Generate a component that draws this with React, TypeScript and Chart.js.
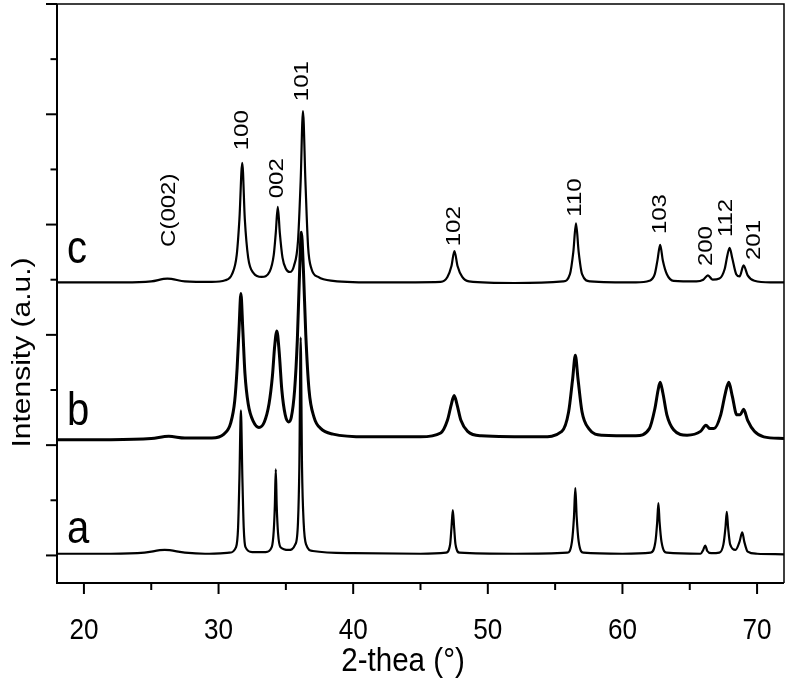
import React, { useEffect, useRef } from "react";
import { Chart, registerables } from "chart.js";

Chart.register(...registerables);

// 2-theta (deg), intensity (a.u., offset)
const curveA: [number, number][] = [
  [18, 0.03], [22, 0.03], [24.5, 0.05], [26, 0.1], [27.5, 0.05], [29, 0.03], [30.8, 0.05],
  [31.3, 0.15], [31.45, 0.5], [31.55, 1.4], [31.66, 2.63], [31.77, 1.4], [31.87, 0.5], [32.0, 0.15],
  [32.5, 0.06], [33.5, 0.06], [33.95, 0.15], [34.1, 0.45], [34.18, 0.9], [34.25, 1.56], [34.32, 0.9],
  [34.42, 0.4], [34.6, 0.15], [35.2, 0.1], [35.7, 0.2], [35.9, 0.6], [36.0, 1.6], [36.1, 3.95],
  [36.2, 1.6], [36.32, 0.6], [36.5, 0.2], [37, 0.08], [40, 0.04], [45, 0.03], [46.9, 0.05],
  [47.2, 0.2], [47.3, 0.5], [47.4, 0.82], [47.5, 0.5], [47.6, 0.2], [47.9, 0.05], [52, 0.03],
  [55.9, 0.05], [56.25, 0.25], [56.4, 0.7], [56.5, 1.22], [56.6, 0.7], [56.75, 0.25], [57.1, 0.05],
  [60, 0.03], [62.1, 0.05], [62.45, 0.25], [62.58, 0.6], [62.67, 0.95], [62.76, 0.6], [62.9, 0.25],
  [63.3, 0.05], [65.8, 0.03], [66.0, 0.1], [66.15, 0.18], [66.3, 0.08], [66.6, 0.04], [67.2, 0.05],
  [67.5, 0.2], [67.65, 0.5], [67.75, 0.79], [67.85, 0.5], [68.0, 0.2], [68.4, 0.1], [68.7, 0.25],
  [68.9, 0.42], [69.05, 0.25], [69.3, 0.07], [70, 0.03], [72, 0.02],
];

const curveB: [number, number][] = [
  [18, 2.1], [22, 2.1], [25, 2.12], [26.3, 2.16], [27.5, 2.13], [29.5, 2.13], [30.4, 2.2],
  [30.9, 2.4], [31.2, 2.8], [31.38, 3.4], [31.52, 4.1], [31.66, 4.75], [31.8, 4.1], [31.96, 3.3],
  [32.2, 2.75], [32.6, 2.42], [33.0, 2.32], [33.4, 2.42], [33.75, 2.75], [34.0, 3.25], [34.17, 3.8],
  [34.33, 4.07], [34.5, 3.7], [34.7, 3.0], [34.95, 2.55], [35.2, 2.42], [35.4, 2.5], [35.65, 3.0],
  [35.85, 3.9], [36.0, 5.0], [36.15, 5.86], [36.3, 5.2], [36.48, 4.0], [36.72, 3.0], [37.1, 2.5],
  [37.6, 2.3], [38.5, 2.2], [41, 2.15], [45, 2.15], [46.5, 2.22], [47.0, 2.45], [47.3, 2.75],
  [47.5, 2.9], [47.7, 2.75], [48.0, 2.45], [48.5, 2.25], [49.5, 2.17], [54, 2.15], [55.5, 2.25],
  [56.0, 2.6], [56.3, 3.2], [56.5, 3.63], [56.7, 3.2], [57.0, 2.6], [57.5, 2.3], [58.5, 2.18],
  [61, 2.17], [62.0, 2.3], [62.4, 2.65], [62.65, 3.0], [62.8, 3.14], [63.0, 2.95], [63.3, 2.55],
  [63.8, 2.28], [64.8, 2.18], [65.8, 2.25], [66.2, 2.36], [66.5, 2.3], [66.8, 2.3], [67.3, 2.55],
  [67.65, 2.95], [67.9, 3.14], [68.15, 2.9], [68.5, 2.55], [68.75, 2.55], [69.0, 2.65], [69.3, 2.45],
  [69.8, 2.25], [70.5, 2.15], [72, 2.12],
];

const curveC: [number, number][] = [
  [18, 4.95], [23, 4.95], [25, 4.97], [26.2, 5.02], [27.5, 4.97], [29.5, 4.96], [30.5, 4.99],
  [31.0, 5.1], [31.35, 5.45], [31.55, 6.1], [31.76, 7.12], [31.95, 6.1], [32.2, 5.4], [32.6, 5.12],
  [33.2, 5.05], [33.8, 5.15], [34.1, 5.45], [34.25, 5.85], [34.4, 6.32], [34.55, 5.85], [34.75, 5.4],
  [35.0, 5.2], [35.3, 5.14], [35.6, 5.25], [35.9, 5.7], [36.1, 6.8], [36.27, 8.06], [36.45, 6.8],
  [36.65, 5.6], [36.9, 5.2], [37.4, 5.05], [38.5, 4.98], [42, 4.95], [46.5, 4.96], [47.0, 5.05],
  [47.3, 5.25], [47.52, 5.52], [47.75, 5.25], [48.1, 5.05], [48.6, 4.97], [52, 4.94], [55.6, 4.97],
  [56.1, 5.1], [56.35, 5.5], [56.55, 6.02], [56.75, 5.5], [57.0, 5.1], [57.6, 4.97], [61, 4.95],
  [62.0, 4.98], [62.4, 5.1], [62.6, 5.35], [62.8, 5.63], [63.0, 5.35], [63.3, 5.1], [63.8, 4.98],
  [65.5, 4.97], [66.0, 5.0], [66.35, 5.08], [66.7, 5.0], [67.2, 5.02], [67.6, 5.2], [67.8, 5.45],
  [67.96, 5.58], [68.15, 5.4], [68.45, 5.1], [68.7, 5.06], [69.0, 5.26], [69.3, 5.08], [69.8, 4.98],
  [71, 4.95], [72, 4.95],
];

const peakLabels = ["C(002)", "100", "002", "101", "102", "110", "103", "200", "112", "201"];
const peakLabelX = [26.35, 31.74, 34.38, 36.2, 47.48, 56.47, 62.77, 66.24, 67.68, 69.8];
const peakLabelY = [6.26, 7.71, 6.84, 8.6, 5.97, 6.49, 6.19, 5.61, 6.12, 5.72];

const curveNames = ["a", "b", "c"];
const curveNameX = [18.75, 18.75, 18.75];
const curveNameY = [0.22, 2.36, 5.3];

const xTickValues = [20, 25, 30, 35, 40, 45, 50, 55, 60, 65, 70];
const xTickLabelValues = [20, 30, 40, 50, 60, 70];
const yTickValues = [0, 1, 2, 3, 4, 5, 6, 7, 8, 9, 10];

const xTitle = "2-thea (°)";
const yTitle = "Intensity (a.u.)";

const FONT = "'Liberation Sans', Arial, sans-serif";
const SQUEEZE = 0.87;

const toXY = (arr: [number, number][]) => arr.map(([x, y]) => ({ x, y }));

function drawText(ctx: any, text: string, x: number, y: number, size: number, rotate: boolean) {
  ctx.save();
  ctx.translate(x, y);
  ctx.scale(SQUEEZE, 1);
  if (rotate) ctx.rotate(-Math.PI / 2);
  ctx.font = `${size}px ${FONT}`;
  ctx.fillText(text, 0, 0);
  ctx.restore();
}

const framePlugin = {
  id: "frameTicksLabels",
  afterDraw(chart: any) {
    const { ctx, chartArea } = chart;
    const { left, right, top, bottom } = chartArea;
    const xs = chart.scales.x;
    const ys = chart.scales.y;
    ctx.save();
    ctx.strokeStyle = "#000";
    ctx.lineCap = "butt";
    // frame
    ctx.lineWidth = 1.5;
    ctx.beginPath();
    ctx.moveTo(left, top);
    ctx.lineTo(right, top);
    ctx.lineTo(right, bottom);
    ctx.stroke();
    ctx.lineWidth = 2;
    ctx.beginPath();
    ctx.moveTo(left, top);
    ctx.lineTo(left, bottom);
    ctx.lineTo(right, bottom);
    ctx.stroke();
    // ticks
    ctx.lineWidth = 2;
    xTickValues.forEach((v) => {
      const px = xs.getPixelForValue(v);
      const len = v % 10 === 0 ? 11 : 7;
      ctx.beginPath();
      ctx.moveTo(px, bottom);
      ctx.lineTo(px, bottom + len);
      ctx.stroke();
    });
    yTickValues.forEach((v) => {
      const py = ys.getPixelForValue(v);
      const len = v % 2 === 0 ? 11 : 6.5;
      ctx.beginPath();
      ctx.moveTo(left - len, py);
      ctx.lineTo(left, py);
      ctx.stroke();
    });
    ctx.fillStyle = "#000";
    ctx.textAlign = "center";
    ctx.textBaseline = "middle";
    // x tick labels
    xTickLabelValues.forEach((v) => {
      drawText(ctx, String(v), xs.getPixelForValue(v), bottom + 48, 30, false);
    });
    // axis titles
    drawText(ctx, xTitle, xs.getPixelForValue(43.7), bottom + 79, 34, false);
    drawText(ctx, yTitle, 23, ys.getPixelForValue(3.68), 30, true);
    // peak labels
    peakLabels.forEach((t, i) => {
      drawText(ctx, t, xs.getPixelForValue(peakLabelX[i]), ys.getPixelForValue(peakLabelY[i]), 24, true);
    });
    // curve names
    ctx.textAlign = "left";
    ctx.textBaseline = "alphabetic";
    curveNames.forEach((t, i) => {
      drawText(ctx, t, xs.getPixelForValue(curveNameX[i]), ys.getPixelForValue(curveNameY[i]), 46, false);
    });
    ctx.restore();
  },
};

export default function App() {
  const ref = useRef<HTMLCanvasElement | null>(null);
  useEffect(() => {
    if (!ref.current) return;
    const lineDs = (data: [number, number][], w: number) => ({
      data: toXY(data),
      borderColor: "#000",
      borderWidth: w,
      pointRadius: 0,
      fill: false,
      cubicInterpolationMode: "monotone" as const,
    });
    const chart = new Chart(ref.current, {
      type: "line",
      data: {
        datasets: [lineDs(curveA, 2.2), lineDs(curveB, 3), lineDs(curveC, 2.2)],
      },
      options: {
        animation: false,
        responsive: true,
        maintainAspectRatio: false,
        parsing: false,
        layout: { padding: { top: 4, right: 3, left: 0, bottom: 0 } },
        plugins: { legend: { display: false }, tooltip: { enabled: false } },
        scales: {
          x: {
            type: "linear",
            min: 18,
            max: 72,
            grid: { display: false, drawTicks: false, tickLength: 0 },
            border: { display: false },
            afterBuildTicks: (s: any) => {
              s.ticks = xTickValues.map((v) => ({ value: v }));
            },
            afterFit: (s: any) => {
              s.height = 99;
              s.paddingLeft = 0;
              s.paddingRight = 0;
            },
            ticks: { display: false },
          },
          y: {
            type: "linear",
            min: -0.5,
            max: 10,
            grid: { display: false, drawTicks: false, tickLength: 0 },
            border: { display: false },
            afterBuildTicks: (s: any) => {
              s.ticks = yTickValues.map((v) => ({ value: v }));
            },
            afterFit: (s: any) => {
              s.width = 57;
              s.paddingTop = 0;
              s.paddingBottom = 0;
            },
            ticks: { display: false },
          },
        },
      },
      plugins: [framePlugin],
    });
    return () => chart.destroy();
  }, []);
  return (
    <div style={{ position: "fixed", left: 0, top: 0, width: 787, height: 682, background: "#fff" }}>
      <canvas ref={ref} />
    </div>
  );
}
